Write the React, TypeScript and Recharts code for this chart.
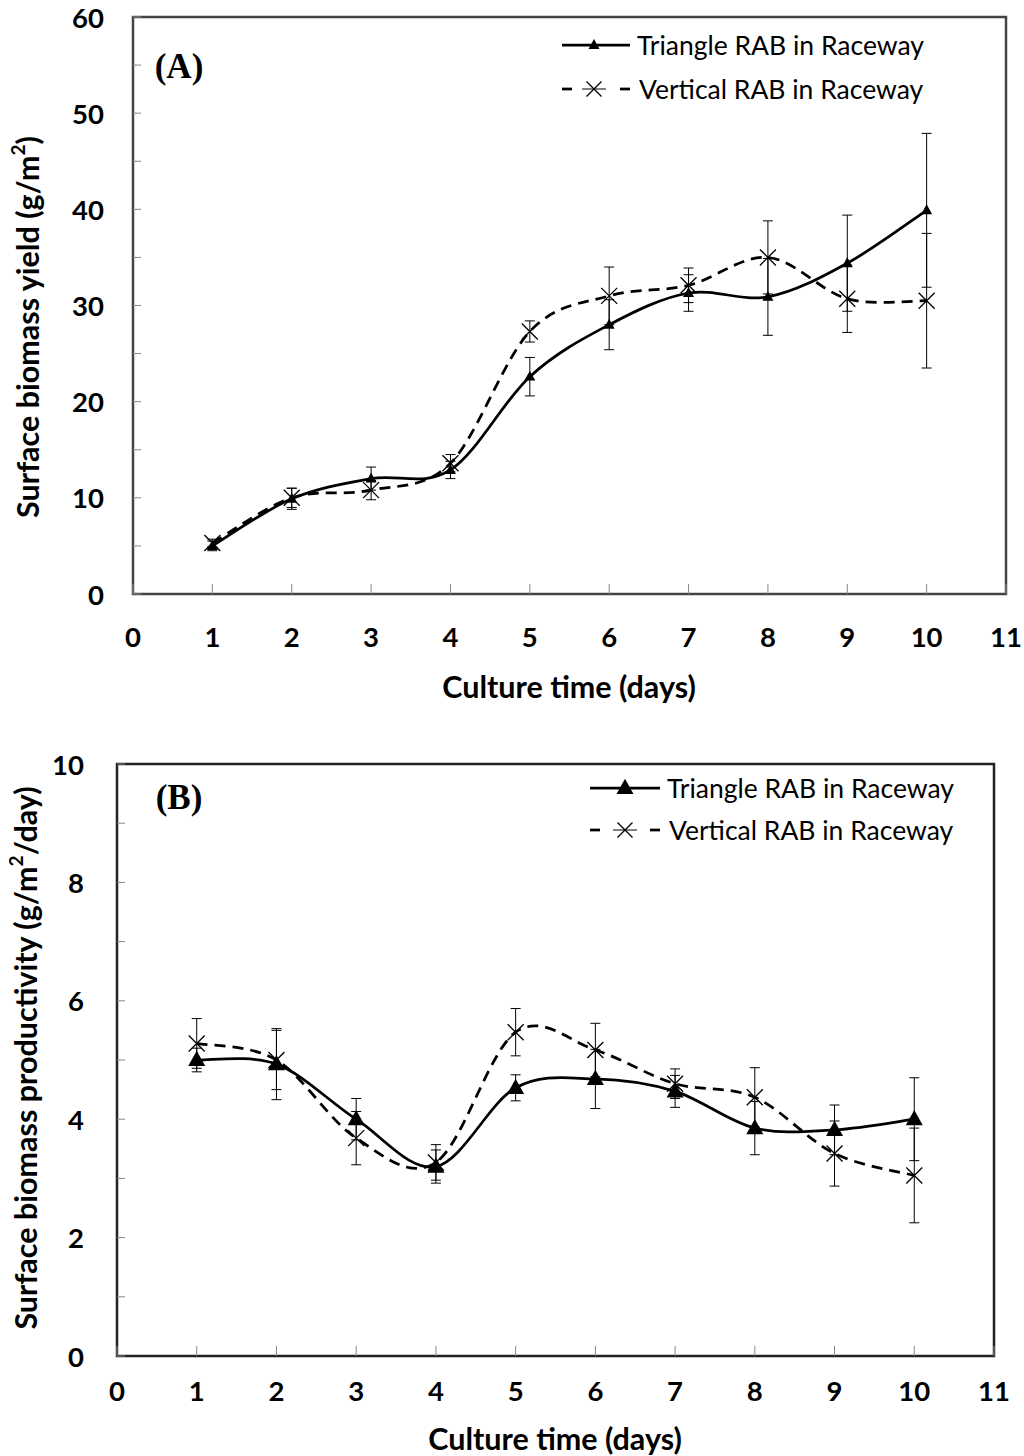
import React from "react";
import { LineChart, Line, XAxis, YAxis, ErrorBar, ReferenceArea } from "recharts";

// culture days and axis ticks
const days = [1, 2, 3, 4, 5, 6, 7, 8, 9, 10];
const xTicks = [0, 1, 2, 3, 4, 5, 6, 7, 8, 9, 10, 11];

// (A) surface biomass yield, g/m2
const yieldTriangle = [5.0, 9.9, 12.0, 12.9, 22.6, 28.0, 31.3, 30.9, 34.4, 39.9];
const yieldTriangleErr = [0.5, 1.1, 1.2, 0.9, 2.0, 2.6, 1.9, 4.0, 5.0, 8.0];
const yieldVertical = [5.3, 10.0, 10.8, 13.6, 27.3, 31.0, 32.1, 35.0, 30.7, 30.5];
const yieldVerticalErr = [0.4, 1.0, 1.0, 0.9, 1.1, 3.0, 1.8, 3.8, 3.5, 7.0];
const yieldTicks = [0, 5, 10, 15, 20, 25, 30, 35, 40, 45, 50, 55, 60];
const yieldLabels = [0, 10, 20, 30, 40, 50, 60];

// (B) surface biomass productivity, g/m2/day
const prodTriangle = [5.0, 4.93, 4.0, 3.2, 4.53, 4.68, 4.47, 3.85, 3.82, 4.0];
const prodTriangleErr = [0.2, 0.6, 0.35, 0.28, 0.22, 0.5, 0.27, 0.45, 0.42, 0.7];
const prodVertical = [5.28, 5.0, 3.68, 3.27, 5.47, 5.17, 4.6, 4.37, 3.42, 3.05];
const prodVerticalErr = [0.42, 0.5, 0.45, 0.3, 0.4, 0.45, 0.25, 0.5, 0.55, 0.8];
const prodTicks = [0, 1, 2, 3, 4, 5, 6, 7, 8, 9, 10];
const prodLabels = [0, 2, 4, 6, 8, 10];

const seriesNames = ["Triangle RAB in Raceway", "Vertical RAB in Raceway"];

const SANS = "Lato, 'Open Sans', sans-serif";
const SERIF = "'Liberation Serif', 'DejaVu Serif', serif";

// Excel-like smoothed line: cubic Bezier segments with Catmull-Rom tangents
const smoothCurve = (context: any) => {
  let pts: number[][] = [];
  return {
    areaStart() {},
    areaEnd() {},
    lineStart() {
      pts = [];
    },
    point(x: number, y: number) {
      pts.push([+x, +y]);
    },
    lineEnd() {
      if (!pts.length) return;
      context.moveTo(pts[0][0], pts[0][1]);
      for (let i = 0; i < pts.length - 1; i++) {
        const p0 = pts[i - 1] ?? pts[i];
        const p1 = pts[i];
        const p2 = pts[i + 1];
        const p3 = pts[i + 2] ?? p2;
        context.bezierCurveTo(
          p1[0] + (p2[0] - p0[0]) / 6,
          p1[1] + (p2[1] - p0[1]) / 6,
          p2[0] - (p3[0] - p1[0]) / 6,
          p2[1] - (p3[1] - p1[1]) / 6,
          p2[0],
          p2[1]
        );
      }
    },
  };
};

function Triangle({ cx, cy, size }: { cx: number; cy: number; size: number }) {
  const h = size * 0.9;
  return (
    <path
      d={`M${cx},${cy - h * 0.6}L${cx + size / 2},${cy + h * 0.4}L${cx - size / 2},${cy + h * 0.4}Z`}
      fill="#000"
    />
  );
}

function Cross({ cx, cy, size }: { cx: number; cy: number; size: number }) {
  const s = size / 2;
  return (
    <path
      d={`M${cx - s},${cy - s}L${cx + s},${cy + s}M${cx - s},${cy + s}L${cx + s},${cy - s}`}
      stroke="#000"
      strokeWidth={1.3}
      fill="none"
    />
  );
}

type PanelProps = {
  top: number;
  height: number;
  plot: { left: number; top: number; right: number; bottom: number };
  yMax: number;
  yTicks: number[];
  yLabels: number[];
  tri: number[];
  triErr: number[];
  vert: number[];
  vertErr: number[];
  triSize: number;
  crossSize: number;
  xLabelGap: number;
  yLabelGap: number;
  frame: string;
};

function Panel(p: PanelProps) {
  const data = days.map((d, i) => ({
    day: d,
    tri: p.tri[i],
    triErr: p.triErr[i],
    vert: p.vert[i],
    vertErr: p.vertErr[i],
  }));

  // inward tick marks, numbers below the frame
  const XTick = (props: any) => {
    const { x, y, payload } = props;
    return (
      <g>
        <line x1={x} x2={x} y1={y} y2={y - 10} stroke="#888" strokeWidth={1} />
        <text
          x={x}
          y={y + p.xLabelGap}
          textAnchor="middle"
          dominantBaseline="central"
          fontFamily={SANS}
          fontWeight={700}
          fontSize={27.5}
          fill="#000"
        >
          {payload.value}
        </text>
      </g>
    );
  };

  // minor ticks on every step, numbers only on the labelled ones
  const YTick = (props: any) => {
    const { x, y, payload } = props;
    const labelled = p.yLabels.includes(payload.value);
    return (
      <g>
        <line x1={x} x2={x + 8} y1={y} y2={y} stroke="#888" strokeWidth={1} />
        {labelled && (
          <text
            x={x - p.yLabelGap}
            y={y}
            textAnchor="end"
            dominantBaseline="central"
            fontFamily={SANS}
            fontWeight={700}
            fontSize={27.5}
            fill="#000"
          >
            {payload.value}
          </text>
        )}
      </g>
    );
  };

  return (
    <div style={{ position: "absolute", left: 0, top: p.top }}>
      <LineChart
        width={1024}
        height={p.height}
        data={data}
        margin={{
          left: p.plot.left - 1,
          top: p.plot.top - p.top,
          right: 1024 - p.plot.right,
          bottom: p.top + p.height - p.plot.bottom - 1,
        }}
      >
        <XAxis
          dataKey="day"
          type="number"
          domain={[0, 11]}
          ticks={xTicks}
          interval={0}
          height={1}
          tickSize={0}
          tickMargin={0}
          axisLine={false}
          tickLine={false}
          tick={<XTick />}
        />
        <YAxis
          type="number"
          domain={[0, p.yMax]}
          ticks={p.yTicks}
          interval={0}
          width={1}
          tickSize={0}
          tickMargin={0}
          axisLine={false}
          tickLine={false}
          tick={<YTick />}
        />
        <Line
          dataKey="tri"
          type={smoothCurve as any}
          stroke="#000"
          strokeWidth={2.75}
          isAnimationActive={false}
          dot={(d: any) => (
            <Triangle key={`t${d.index}`} cx={d.cx} cy={d.cy} size={p.triSize} />
          )}
          activeDot={false}
        >
          <ErrorBar dataKey="triErr" direction="y" width={5} stroke="#000" strokeWidth={1} />
        </Line>
        <Line
          dataKey="vert"
          type={smoothCurve as any}
          stroke="#000"
          strokeWidth={2.75}
          strokeDasharray="11 7"
          isAnimationActive={false}
          dot={(d: any) => (
            <Cross key={`v${d.index}`} cx={d.cx} cy={d.cy} size={p.crossSize} />
          )}
          activeDot={false}
        >
          <ErrorBar dataKey="vertErr" direction="y" width={5} stroke="#000" strokeWidth={1} />
        </Line>
        <ReferenceArea
          x1={0}
          x2={11}
          y1={0}
          y2={p.yMax}
          fill="none"
          stroke={p.frame}
          strokeWidth={2.5}
          ifOverflow="visible"
        />
      </LineChart>
    </div>
  );
}

function LegendRows({
  x,
  y,
  gap,
  lineEnd,
  mid,
  triSize,
}: {
  x: number;
  y: number;
  gap: number;
  lineEnd: number;
  mid: number;
  triSize: number;
}) {
  return (
    <g>
      <line x1={x} x2={lineEnd} y1={y} y2={y} stroke="#000" strokeWidth={2.75} />
      <Triangle cx={mid} cy={y} size={triSize} />
      <text x={lineEnd + 7} y={y} dominantBaseline="central" fontFamily={SANS} fontSize={26.5}>
        {seriesNames[0]}
      </text>
      <line x1={x} x2={x + 10} y1={y + gap} y2={y + gap} stroke="#000" strokeWidth={2.75} />
      <line x1={lineEnd - 10} x2={lineEnd} y1={y + gap} y2={y + gap} stroke="#000" strokeWidth={2.75} />
      <line x1={mid - 12} x2={mid + 12} y1={y + gap} y2={y + gap} stroke="#000" strokeWidth={1} />
      <Cross cx={mid} cy={y + gap} size={15} />
      <text x={lineEnd + 9} y={y + gap} dominantBaseline="central" fontFamily={SANS} fontSize={26.5}>
        {seriesNames[1]}
      </text>
    </g>
  );
}

export default function App() {
  return (
    <div
      style={{
        position: "absolute",
        left: 0,
        top: 0,
        width: 1024,
        height: 1456,
        background: "#fff",
      }}
    >
      <Panel
        top={0}
        height={720}
        plot={{ left: 133, top: 17, right: 1006, bottom: 594 }}
        yMax={60}
        yTicks={yieldTicks}
        yLabels={yieldLabels}
        tri={yieldTriangle}
        triErr={yieldTriangleErr}
        vert={yieldVertical}
        vertErr={yieldVerticalErr}
        triSize={11}
        crossSize={16}
        xLabelGap={42}
        yLabelGap={29}
        frame="#444"
      />
      <Panel
        top={720}
        height={736}
        plot={{ left: 117, top: 764, right: 994, bottom: 1356 }}
        yMax={10}
        yTicks={prodTicks}
        yLabels={prodLabels}
        tri={prodTriangle}
        triErr={prodTriangleErr}
        vert={prodVertical}
        vertErr={prodVerticalErr}
        triSize={17}
        crossSize={16}
        xLabelGap={34}
        yLabelGap={33}
        frame="#222"
      />
      <svg
        width={1024}
        height={1456}
        style={{ position: "absolute", left: 0, top: 0, pointerEvents: "none" }}
      >
        {/* panel (A) titles */}
        <text x={179} y={66} textAnchor="middle" dominantBaseline="central" fontFamily={SERIF} fontWeight={700} fontSize={35}>
          (A)
        </text>
        <text x={569} y={686} textAnchor="middle" dominantBaseline="central" fontFamily={SANS} fontWeight={700} fontSize={30.5}>
          Culture time (days)
        </text>
        <text
          transform="translate(27,327) rotate(-90)"
          textAnchor="middle"
          dominantBaseline="central"
          fontFamily={SANS}
          fontWeight={700}
          fontSize={30.5}
        >
          Surface biomass yield (g/m<tspan dy={-10} fontSize={19}>2</tspan>
          <tspan dy={10}>)</tspan>
        </text>
        <LegendRows x={562} y={45} gap={44} lineEnd={630} mid={594} triSize={11} />

        {/* panel (B) titles */}
        <text x={179} y={797} textAnchor="middle" dominantBaseline="central" fontFamily={SERIF} fontWeight={700} fontSize={35}>
          (B)
        </text>
        <text x={555} y={1438} textAnchor="middle" dominantBaseline="central" fontFamily={SANS} fontWeight={700} fontSize={30.5}>
          Culture time (days)
        </text>
        <text
          transform="translate(25,1058) rotate(-90)"
          textAnchor="middle"
          dominantBaseline="central"
          fontFamily={SANS}
          fontWeight={700}
          fontSize={30.5}
        >
          Surface biomass productivity (g/m<tspan dy={-10} fontSize={19}>2</tspan>
          <tspan dy={10}>/day)</tspan>
        </text>
        <LegendRows x={590} y={788} gap={42} lineEnd={660} mid={625} triSize={17} />
      </svg>
    </div>
  );
}
